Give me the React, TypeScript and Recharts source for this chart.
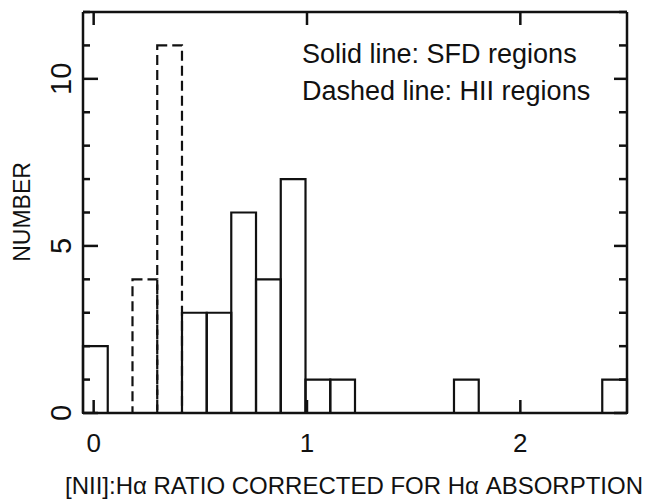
import React from "react";
import { ComposedChart, XAxis, YAxis, ReferenceArea } from "recharts";

// bin edges (22 equal bins from -0.05 to 2.5)
const binEdges = [
  -0.05, 0.066, 0.182, 0.298, 0.414, 0.53, 0.645, 0.761, 0.877, 0.993, 1.109,
  1.225, 1.341, 1.457, 1.573, 1.689, 1.805, 1.92, 2.036, 2.152, 2.268, 2.384, 2.5,
];
// solid line: SFD regions
const sfdCounts = [2, 0, 0, 0, 3, 3, 6, 4, 7, 1, 1, 0, 0, 0, 0, 1, 0, 0, 0, 0, 0, 1];
// dashed line: HII regions
const hiiCounts = [0, 0, 4, 11, 0, 0, 0, 0, 0, 0, 0, 0, 0, 0, 0, 0, 0, 0, 0, 0, 0, 0];

const xTicks = [0, 1, 2];
const yTicks = [0, 1, 2, 3, 4, 5, 6, 7, 8, 9, 10, 11, 12];
const yLabelled = [0, 5, 10];
const X_DOMAIN = [-0.05, 2.5];
const Y_DOMAIN = [0, 12];

const INK = "#111";
const FONT = "'Liberation Sans', Arial, sans-serif";

const W = 643;
const H = 492;
const M = { top: 3, right: 23, left: 0, bottom: 0 };
const Y_AXIS_W = 75;
const X_AXIS_H = 87;
const PLOT_X = M.left + Y_AXIS_W;
const PLOT_Y = M.top + 1;
const PLOT_W = W - M.left - M.right - Y_AXIS_W - 1;
const PLOT_H = H - M.top - M.bottom - X_AXIS_H - 1;

const bins = sfdCounts.map((n, i) => ({
  lo: binEdges[i],
  hi: binEdges[i + 1],
  sfd: n,
  hii: hiiCounts[i],
}));

// frame tick positions for the left and top sides (same linear mapping as the axes)
const tx = (v: number) => PLOT_X + ((v - X_DOMAIN[0]) / (X_DOMAIN[1] - X_DOMAIN[0])) * PLOT_W;
const ty = (v: number) => PLOT_Y + ((Y_DOMAIN[1] - v) / (Y_DOMAIN[1] - Y_DOMAIN[0])) * PLOT_H;

function BottomTick({ x, y, payload }: any) {
  return (
    <g>
      <path d={`M${x},${y}L${x},${y - 13}`} stroke={INK} strokeWidth={2.5} fill="none" />
      <text x={x} y={y + 30} textAnchor="middle" dominantBaseline="central" fontSize={26} fontFamily={FONT} fill={INK}>
        {payload.value}
      </text>
    </g>
  );
}

function LeftTick({ x, y, payload }: any) {
  if (!yLabelled.includes(payload.value)) return <g />;
  return (
    <text
      x={x - 22}
      y={y}
      textAnchor="middle"
      dominantBaseline="central"
      fontSize={29}
      fontFamily={FONT}
      fill={INK}
      transform={`rotate(-90 ${x - 22} ${y})`}
    >
      {payload.value}
    </text>
  );
}

function RightTick({ x, y, payload }: any) {
  const major = yLabelled.includes(payload.value);
  return <path d={`M${x},${y}L${x - (major ? 13 : 8)},${y}`} stroke={INK} strokeWidth={2.5} fill="none" />;
}

const axisLine = { stroke: INK, strokeWidth: 2.5 };

export default function App() {
  return (
    <div style={{ position: "relative", width: W, height: H }}>
      <ComposedChart width={W} height={H} data={bins} margin={M}>
        <XAxis
          type="number"
          dataKey="lo"
          domain={X_DOMAIN}
          ticks={xTicks}
          interval={0}
          allowDataOverflow
          height={X_AXIS_H}
          tickSize={0}
          tickMargin={0}
          tickLine={false}
          tick={<BottomTick />}
          axisLine={axisLine}
        />
        <XAxis
          xAxisId="top"
          orientation="top"
          type="number"
          dataKey="lo"
          domain={X_DOMAIN}
          allowDataOverflow
          height={1}
          tick={false}
          tickLine={false}
          axisLine={axisLine}
        />
        <YAxis
          type="number"
          domain={Y_DOMAIN}
          ticks={yTicks}
          interval={0}
          allowDataOverflow
          width={Y_AXIS_W}
          tickSize={0}
          tickMargin={0}
          tickLine={false}
          tick={<LeftTick />}
          axisLine={axisLine}
        />
        <YAxis
          yAxisId="right"
          orientation="right"
          type="number"
          domain={Y_DOMAIN}
          ticks={yTicks}
          interval={0}
          allowDataOverflow
          width={1}
          tickSize={0}
          tickMargin={0}
          tickLine={false}
          tick={<RightTick />}
          axisLine={axisLine}
        />

        {bins
          .filter((b) => b.sfd > 0)
          .map((b) => (
            <ReferenceArea
              key={`sfd-${b.lo}`}
              x1={b.lo}
              x2={b.hi}
              y1={0}
              y2={b.sfd}
              fill="none"
              stroke={INK}
              strokeWidth={2.2}
            />
          ))}
        {bins
          .filter((b) => b.hii > 0)
          .map((b) => (
            <ReferenceArea
              key={`hii-${b.lo}`}
              x1={b.lo}
              x2={b.hi}
              y1={0}
              y2={b.hii}
              fill="none"
              stroke={INK}
              strokeWidth={2.2}
              strokeDasharray="10 5"
            />
          ))}

        <text x={294} y={55} fontSize={27} fontFamily={FONT} fill={INK}>
          Solid line: SFD regions
        </text>
        <text x={294} y={92} fontSize={27} fontFamily={FONT} fill={INK}>
          Dashed line: HII regions
        </text>
        <text
          x={14}
          y={204}
          textAnchor="middle"
          dominantBaseline="central"
          fontSize={23}
          fontFamily={FONT}
          fill={INK}
          transform="rotate(-90 14 204)"
        >
          NUMBER
        </text>
        <text x={346} y={477} textAnchor="middle" dominantBaseline="central" fontSize={24} fontFamily={FONT} fill={INK}>
          [NII]:Hα RATIO CORRECTED FOR Hα ABSORPTION
        </text>
      </ComposedChart>

      {/* inward tick marks on the left and top frame sides */}
      <svg
        width={W}
        height={H}
        style={{ position: "absolute", left: 0, top: 0, pointerEvents: "none" }}
      >
        {yTicks.map((v) => (
          <path
            key={`l-${v}`}
            d={`M${PLOT_X},${ty(v)}L${PLOT_X + (yLabelled.includes(v) ? 15 : 7)},${ty(v)}`}
            stroke={INK}
            strokeWidth={2.5}
            fill="none"
          />
        ))}
        {xTicks.map((v) => (
          <path
            key={`t-${v}`}
            d={`M${tx(v)},${PLOT_Y}L${tx(v)},${PLOT_Y + 13}`}
            stroke={INK}
            strokeWidth={2.5}
            fill="none"
          />
        ))}
      </svg>
    </div>
  );
}
